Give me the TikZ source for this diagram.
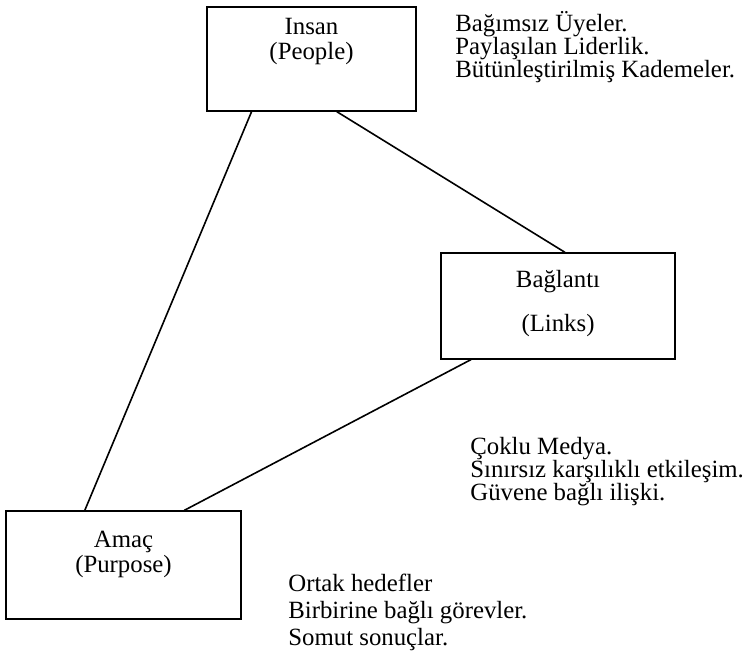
\documentclass[tikz,border=0pt]{standalone}
\usepackage{fontspec}
\setmainfont{Liberation Serif}
\usetikzlibrary{positioning,calc}

\begin{document}
\begin{tikzpicture}[
  x=0.5pt, y=-0.5pt,
  box/.style={rectangle, draw, line width=0.6pt, inner sep=0pt},
  boxtext/.style={align=center, inner sep=0pt, anchor=north, font=\fontsize{12.4}{12.5}\selectfont},
  note/.style={align=left, inner sep=0pt, anchor=north west, font=\fontsize{12.4}{11.5}\selectfont},
  link/.style={line width=0.8pt}
]
\useasboundingbox (0,0) rectangle (749,653);

\node[box, minimum width=104.5pt, minimum height=52pt] (insan) at (311.5,59) {};
\node[box, minimum width=117pt, minimum height=53pt] (baglanti) at (558,306) {};
\node[box, minimum width=117.5pt, minimum height=54pt] (amac) at (123.5,565) {};

\node[boxtext, below=5.5pt of insan.north] (insanlbl) {Insan\\(People)};
\node[boxtext, below=8.5pt of baglanti.north] (baglantilbl) {Bağlantı\\[9.5pt](Links)};
\node[boxtext, below=10pt of amac.north] (amaclbl) {Amaç\\(Purpose)};

\node[note] (insannot) at (455,11) {Bağımsız Üyeler.\\Paylaşılan Liderlik.\\Bütünleştirilmiş Kademeler.};
\node[note] (baglantinot) at (470,437) {Çoklu Medya.\\Sınırsız karşılıklı etkileşim.\\Güvene bağlı ilişki.};
\node[note, font=\fontsize{12.4}{13.5}\selectfont] (amacnot) at (288,574) {Ortak hedefler\\Birbirine bağlı görevler.\\Somut sonuçlar.};

\draw[link] ($(insan.south west)!0.215!(insan.south east)$) -- ($(amac.north west)!0.336!(amac.north east)$);
\draw[link] ($(insan.south west)!0.62!(insan.south east)$) -- ($(baglanti.north west)!0.53!(baglanti.north east)$);
\draw[link] ($(baglanti.south west)!0.13!(baglanti.south east)$) -- ($(amac.north west)!0.757!(amac.north east)$);
\end{tikzpicture}
\end{document}
